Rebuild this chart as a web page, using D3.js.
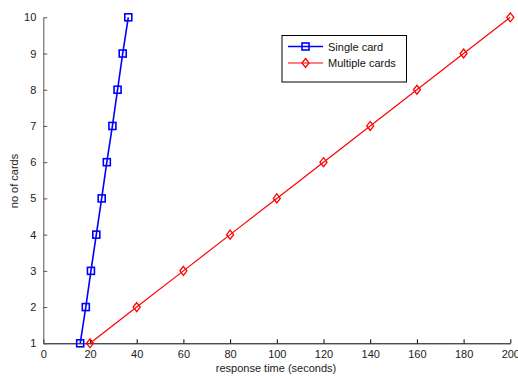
<!DOCTYPE html>
<html><head><meta charset="utf-8">
<script src="https://cdn.jsdelivr.net/npm/d3@7"></script>
<style>body{margin:0;background:#fff}svg{display:block;font-family:"Liberation Sans",Arial,sans-serif}</style>
</head><body><svg id="c" width="518" height="376"></svg>
<script>
const cards = [1,2,3,4,5,6,7,8,9,10];
const singleTimes = [15.8,18.2,20.4,22.7,25.0,27.2,29.6,31.8,34.0,36.4];
const multipleTimes = [20,40,60,80,100,120,140,160,180,200];
const xTicks = [0,20,40,60,80,100,120,140,160,180,200];
const yTicks = [1,2,3,4,5,6,7,8,9,10];
const seriesNames = ["Single card","Multiple cards"];

const svg = d3.select("#c");
const x = d3.scaleLinear().domain([0,200]).range([43.3,510.3]);
const y = d3.scaleLinear().domain([1,10]).range([343.3,17.3]);

// axes
const xa = svg.append("g").attr("transform","translate(0,343.3)")
  .call(d3.axisBottom(x).tickValues(xTicks).tickSizeInner(-4).tickSizeOuter(0).tickPadding(7));
xa.select(".domain").attr("stroke","#000");
xa.selectAll(".tick line").attr("stroke","#000");
xa.selectAll("text").attr("font-size",11).attr("fill","#222").attr("font-family","Liberation Sans, Arial, sans-serif");

const ya = svg.append("g").attr("transform","translate(43.3,0)")
  .call(d3.axisLeft(y).tickValues(yTicks).tickSizeInner(-4).tickSizeOuter(0).tickPadding(7));
ya.select(".domain").attr("stroke","#555");
ya.selectAll(".tick line").attr("stroke","#555");
ya.selectAll("text").attr("font-size",11).attr("fill","#222").attr("font-family","Liberation Sans, Arial, sans-serif");

// labels
svg.append("text").attr("x",276).attr("y",372).attr("text-anchor","middle")
  .attr("font-size",11).attr("fill","#222").text("response time (seconds)");
svg.append("text").attr("transform","translate(18,181) rotate(-90)").attr("text-anchor","middle")
  .attr("font-size",11).attr("fill","#222").text("no of cards");

const line = d3.line();
const singlePts = cards.map((c,i)=>[x(singleTimes[i]),y(c)]);
const multiPts = cards.map((c,i)=>[x(multipleTimes[i]),y(c)]);

svg.append("path").attr("d",line(multiPts)).attr("fill","none").attr("stroke","#f00").attr("stroke-width",1.2);
svg.append("path").attr("d",line(singlePts)).attr("fill","none").attr("stroke","#00f").attr("stroke-width",1.6);

const diamond = (cx,cy)=>`M${cx},${cy-4.5}L${cx+3.5},${cy}L${cx},${cy+4.5}L${cx-3.5},${cy}Z`;
svg.append("g").selectAll("path").data(multiPts).join("path")
  .attr("d",d=>diamond(d[0],d[1])).attr("fill","none").attr("stroke","#f00").attr("stroke-width",1.3);
svg.append("g").selectAll("rect").data(singlePts).join("rect")
  .attr("x",d=>d[0]-3.5).attr("y",d=>d[1]-3.5).attr("width",7).attr("height",7)
  .attr("fill","none").attr("stroke","#00f").attr("stroke-width",1.6);

// legend
const lg = svg.append("g");
lg.append("rect").attr("x",282).attr("y",35.5).attr("width",124.5).attr("height",46.5)
  .attr("fill","#fff").attr("stroke","#000").attr("stroke-width",1);
const ly = [46.5,63];
lg.append("line").attr("x1",288).attr("x2",323).attr("y1",ly[0]).attr("y2",ly[0]).attr("stroke","#00f").attr("stroke-width",1.6);
lg.append("rect").attr("x",305.5-3.5).attr("y",ly[0]-3.5).attr("width",7).attr("height",7).attr("fill","none").attr("stroke","#00f").attr("stroke-width",1.6);
lg.append("line").attr("x1",288).attr("x2",323).attr("y1",ly[1]).attr("y2",ly[1]).attr("stroke","#f00").attr("stroke-width",1.2);
lg.append("path").attr("d",diamond(305.5,ly[1])).attr("fill","none").attr("stroke","#f00").attr("stroke-width",1.3);
seriesNames.forEach((n,i)=>{
  lg.append("text").attr("x",328).attr("y",ly[i]+4).attr("font-size",11).attr("fill","#111").text(n);
});
</script></body></html>
